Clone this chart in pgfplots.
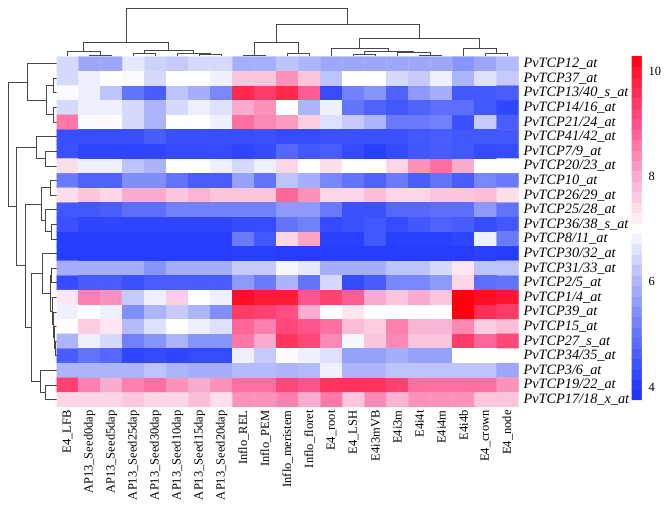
\documentclass[border=0pt]{standalone}
\usepackage{fontspec}
\setmainfont{Liberation Serif}
\usepackage{pgfplots}
\pgfplotsset{compat=1.18}
\begin{document}
\begin{tikzpicture}
\path[use as bounding box] (0,0) rectangle (668pt,514pt);
\begin{axis}[
  at={(0pt,0pt)}, anchor=south west, scale only axis,
  width=668pt, height=514pt, xmin=0, xmax=668, ymin=0, ymax=514,
  y dir=reverse, hide axis, clip=false,
  dend/.style={draw=black!72, line width=1pt, mark=none}]
% column dendrogram
\addplot[dend] coordinates {(89,56.5)(89,55.2)(111,55.2)(111,56.5)};
\addplot[dend] coordinates {(67,56.5)(67,51.7)(100,51.7)(100,55.2)};
\addplot[dend] coordinates {(133,56.5)(133,54)(155,54)(155,56.5)};
\addplot[dend] coordinates {(199,56.5)(199,55)(221,55)(221,56.5)};
\addplot[dend] coordinates {(177,56.5)(177,54)(210,54)(210,55)};
\addplot[dend] coordinates {(144,54)(144,50.7)(193.5,50.7)(193.5,54)};
\addplot[dend] coordinates {(83.5,51.7)(83.5,42.7)(168.75,42.7)(168.75,50.7)};
\addplot[dend] coordinates {(243,56.5)(243,55.2)(265,55.2)(265,56.5)};
\addplot[dend] coordinates {(287,56.5)(287,54)(309,54)(309,56.5)};
\addplot[dend] coordinates {(254,55.2)(254,42.7)(298,42.7)(298,54)};
\addplot[dend] coordinates {(353,56.5)(353,55)(375,55)(375,56.5)};
\addplot[dend] coordinates {(419,56.5)(419,55.5)(441,55.5)(441,56.5)};
\addplot[dend] coordinates {(397,56.5)(397,53)(430,53)(430,55.5)};
\addplot[dend] coordinates {(364,55)(364,51.7)(413.5,51.7)(413.5,53)};
\addplot[dend] coordinates {(331,56.5)(331,48.3)(388.75,48.3)(388.75,51.7)};
\addplot[dend] coordinates {(485,56.5)(485,53.3)(507,53.3)(507,56.5)};
\addplot[dend] coordinates {(463,56.5)(463,48.3)(496,48.3)(496,53.3)};
\addplot[dend] coordinates {(359.9,48.3)(359.9,38.3)(479.5,38.3)(479.5,48.3)};
\addplot[dend] coordinates {(276,42.7)(276,25)(419.7,25)(419.7,38.3)};
\addplot[dend] coordinates {(126.1,42.7)(126.1,8.3)(347.8,8.3)(347.8,25)};
% row dendrogram
\addplot[dend] coordinates {(56.5,78.4)(53.3,78.4)(53.3,93.0)(56.5,93.0)};
\addplot[dend] coordinates {(56.5,107.6)(53.3,107.6)(53.3,122.2)(56.5,122.2)};
\addplot[dend] coordinates {(53.3,85.7)(46.7,85.7)(46.7,114.9)(53.3,114.9)};
\addplot[dend] coordinates {(56.5,63.8)(27.3,63.8)(27.3,100.3)(46.7,100.3)};
\addplot[dend] coordinates {(56.5,151.4)(45,151.4)(45,166.0)(56.5,166.0)};
\addplot[dend] coordinates {(56.5,136.8)(36.7,136.8)(36.7,158.7)(45,158.7)};
\addplot[dend] coordinates {(56.5,180.6)(50,180.6)(50,195.2)(56.5,195.2)};
\addplot[dend] coordinates {(56.5,224.4)(51.7,224.4)(51.7,239.0)(56.5,239.0)};
\addplot[dend] coordinates {(56.5,209.8)(45,209.8)(45,231.7)(51.7,231.7)};
\addplot[dend] coordinates {(50,187.9)(41.7,187.9)(41.7,220.75)(45,220.75)};
\addplot[dend] coordinates {(56.5,268.2)(51.7,268.2)(51.7,282.8)(56.5,282.8)};
\addplot[dend] coordinates {(56.5,341.2)(55.3,341.2)(55.3,355.8)(56.5,355.8)};
\addplot[dend] coordinates {(56.5,326.6)(54.3,326.6)(54.3,348.5)(55.3,348.5)};
\addplot[dend] coordinates {(56.5,312.0)(53.3,312.0)(53.3,337.55)(54.3,337.55)};
\addplot[dend] coordinates {(56.5,297.4)(52,297.4)(52,324.8)(53.3,324.8)};
\addplot[dend] coordinates {(51.7,275.5)(50,275.5)(50,311.1)(52,311.1)};
\addplot[dend] coordinates {(56.5,253.6)(42.7,253.6)(42.7,293.3)(50,293.3)};
\addplot[dend] coordinates {(56.5,385.0)(45,385.0)(45,399.6)(56.5,399.6)};
\addplot[dend] coordinates {(56.5,370.4)(40,370.4)(40,392.3)(45,392.3)};
\addplot[dend] coordinates {(42.7,273.45)(31.7,273.45)(31.7,381.35)(40,381.35)};
\addplot[dend] coordinates {(41.7,204.3)(25,204.3)(25,327.4)(31.7,327.4)};
\addplot[dend] coordinates {(36.7,147.75)(16.7,147.75)(16.7,265.85)(25,265.85)};
\addplot[dend] coordinates {(27.3,82.05)(8.3,82.05)(8.3,206.8)(16.7,206.8)};
\end{axis}
\begin{axis}[
  at={(56.5pt,107.1pt)}, anchor=south west, scale only axis,
  width=462pt, height=350.4pt,
  xmin=-0.5, xmax=20.5, ymin=-0.5, ymax=23.5, y dir=reverse,
  enlargelimits=false,
  axis line style={draw=none}, tick style={draw=none}, major tick length=0pt,
  xtick={0,...,20},
  xticklabels={E4\_LFB, AP13\_Seed0dap, AP13\_Seed5dap, AP13\_Seed25dap, AP13\_Seed30dap, AP13\_Seed10dap, AP13\_Seed15dap, AP13\_Seed20dap, Inflo\_REL, Inflo\_PEM, Inflo\_meristem, Inflo\_floret, E4\_root, E4\_LSH, E4i3mVB, E4i3m, E4i4t, E4i4m, E4i4b, E4\_crown, E4\_node},
  xticklabel style={rotate=90, anchor=east, font=\fontsize{12.5}{13}\selectfont},
  ytick={0,...,23},
  yticklabels={PvTCP12\_at, PvTCP37\_at, PvTCP13/40\_s\_at, PvTCP14/16\_at, PvTCP21/24\_at, PvTCP41/42\_at, PvTCP7/9\_at, PvTCP20/23\_at, PvTCP10\_at, PvTCP26/29\_at, PvTCP25/28\_at, PvTCP36/38\_s\_at, PvTCP8/11\_at, PvTCP30/32\_at, PvTCP31/33\_at, PvTCP2/5\_at, PvTCP1/4\_at, PvTCP39\_at, PvTCP15\_at, PvTCP27\_s\_at, PvTCP34/35\_at, PvTCP3/6\_at, PvTCP19/22\_at, PvTCP17/18\_x\_at},
  yticklabel pos=right,
  yticklabel style={anchor=west, xshift=1.5pt, font=\fontsize{14.3}{14.5}\selectfont\itshape},
  colormap={tcp}{rgb255(375)=(28,48,255) rgb255(400)=(35,58,255) rgb255(500)=(98,116,250) rgb255(600)=(172,180,250) rgb255(700)=(255,255,255) rgb255(800)=(250,172,206) rgb255(900)=(255,85,140) rgb255(1000)=(255,22,48) rgb255(1030)=(255,0,12)},
  point meta min=3.75, point meta max=10.3,
  colorbar sampled,
  colorbar style={samples=34, at={(parent axis.north east)}, anchor=north west,
    xshift=104.5pt, yshift=0.5pt, scale only axis, width=10pt, height=344pt,
    ytick={4,6,8,10}, yticklabel pos=right,
    axis line style={draw=none}, tick style={draw=none}, major tick length=0pt,
    yticklabel style={font=\fontsize{12.5}{13}\selectfont, /pgf/number format/assume math mode=true, xshift=3.5pt}},
]
\addplot[matrix plot*, mesh/cols=21, point meta=explicit] table[row sep=\\, meta=c] {
x y c\\
0 0 6.5\\1 0 5.8\\2 0 5.8\\3 0 6.7\\4 0 6.4\\5 0 6.3\\6 0 6.5\\7 0 6.5\\8 0 5.9\\9 0 5.9\\10 0 6.2\\11 0 6.0\\12 0 5.8\\13 0 5.8\\14 0 5.8\\15 0 5.8\\16 0 5.8\\17 0 5.8\\18 0 5.5\\19 0 5.8\\20 0 6.1\\
0 1 6.5\\1 1 6.8\\2 1 7.0\\3 1 6.95\\4 1 6.5\\5 1 7.0\\6 1 7.0\\7 1 6.8\\8 1 7.7\\9 1 7.7\\10 1 8.3\\11 1 7.7\\12 1 6.2\\13 1 7.0\\14 1 7.0\\15 1 6.5\\16 1 6.3\\17 1 6.8\\18 1 6.0\\19 1 6.6\\20 1 6.3\\
0 2 6.95\\1 2 6.8\\2 2 6.2\\3 2 5.0\\4 2 4.6\\5 2 6.2\\6 2 5.9\\7 2 5.3\\8 2 9.7\\9 2 9.4\\10 2 9.7\\11 2 8.9\\12 2 4.3\\13 2 5.2\\14 2 5.5\\15 2 4.7\\16 2 5.6\\17 2 5.9\\18 2 4.5\\19 2 4.5\\20 2 4.6\\
0 3 6.5\\1 3 6.8\\2 3 6.8\\3 3 6.5\\4 3 6.0\\5 3 6.5\\6 3 6.8\\7 3 6.6\\8 3 8.0\\9 3 8.3\\10 3 7.0\\11 3 6.0\\12 3 6.8\\13 3 5.0\\14 3 4.7\\15 3 4.5\\16 3 4.7\\17 3 4.9\\18 3 4.9\\19 3 4.5\\20 3 4.2\\
0 4 8.6\\1 4 6.95\\2 4 7.05\\3 4 6.5\\4 4 6.0\\5 4 7.0\\6 4 7.0\\7 4 6.8\\8 4 8.7\\9 4 8.4\\10 4 8.2\\11 4 7.6\\12 4 6.6\\13 4 6.3\\14 4 6.0\\15 4 5.1\\16 4 5.1\\17 4 5.2\\18 4 4.4\\19 4 6.3\\20 4 4.6\\
0 5 4.35\\1 5 4.35\\2 5 4.35\\3 5 4.35\\4 5 4.6\\5 5 4.35\\6 5 4.35\\7 5 4.35\\8 5 4.35\\9 5 4.4\\10 5 4.3\\11 5 4.3\\12 5 4.4\\13 5 4.4\\14 5 4.4\\15 5 4.4\\16 5 4.5\\17 5 4.6\\18 5 4.5\\19 5 4.5\\20 5 4.5\\
0 6 4.4\\1 6 4.2\\2 6 4.2\\3 6 4.2\\4 6 4.2\\5 6 4.3\\6 6 4.3\\7 6 4.3\\8 6 4.2\\9 6 4.3\\10 6 4.8\\11 6 4.5\\12 6 4.6\\13 6 4.3\\14 6 4.1\\15 6 4.3\\16 6 4.5\\17 6 4.6\\18 6 4.5\\19 6 4.3\\20 6 4.3\\
0 7 7.4\\1 7 6.8\\2 7 6.8\\3 7 6.2\\4 7 6.0\\5 7 7.0\\6 7 7.0\\7 7 6.8\\8 7 6.5\\9 7 6.8\\10 7 7.5\\11 7 7.0\\12 7 7.4\\13 7 7.0\\14 7 7.0\\15 7 7.5\\16 7 8.3\\17 7 8.7\\18 7 8.0\\19 7 7.0\\20 7 7.0\\
0 8 5.1\\1 8 4.7\\2 8 4.7\\3 8 5.4\\4 8 5.4\\5 8 5.0\\6 8 4.6\\7 8 4.6\\8 8 5.7\\9 8 5.0\\10 8 6.2\\11 8 5.9\\12 8 5.3\\13 8 5.0\\14 8 4.7\\15 8 5.1\\16 8 4.6\\17 8 5.0\\18 8 4.6\\19 8 5.3\\20 8 5.1\\
0 9 7.4\\1 9 7.7\\2 9 7.5\\3 9 8.0\\4 9 8.0\\5 9 7.7\\6 9 7.9\\7 9 7.7\\8 9 7.7\\9 9 7.7\\10 9 8.8\\11 9 8.3\\12 9 7.5\\13 9 7.5\\14 9 7.8\\15 9 7.5\\16 9 7.5\\17 9 7.7\\18 9 7.7\\19 9 7.8\\20 9 7.4\\
0 10 4.5\\1 10 4.5\\2 10 4.6\\3 10 4.9\\4 10 4.9\\5 10 5.2\\6 10 5.2\\7 10 5.2\\8 10 5.2\\9 10 5.2\\10 10 5.6\\11 10 5.6\\12 10 5.1\\13 10 4.4\\14 10 4.4\\15 10 4.8\\16 10 4.8\\17 10 4.9\\18 10 4.9\\19 10 5.6\\20 10 5.0\\
0 11 4.4\\1 11 4.2\\2 11 4.2\\3 11 4.2\\4 11 4.2\\5 11 4.2\\6 11 4.2\\7 11 4.2\\8 11 4.3\\9 11 4.3\\10 11 5.0\\11 11 5.2\\12 11 4.3\\13 11 4.4\\14 11 4.5\\15 11 4.3\\16 11 4.5\\17 11 4.7\\18 11 4.6\\19 11 4.3\\20 11 4.5\\
0 12 4.05\\1 12 4.05\\2 12 4.05\\3 12 4.05\\4 12 4.05\\5 12 4.05\\6 12 4.05\\7 12 4.05\\8 12 5.1\\9 12 4.5\\10 12 7.5\\11 12 8.1\\12 12 4.1\\13 12 4.1\\14 12 4.5\\15 12 4.1\\16 12 4.1\\17 12 4.1\\18 12 4.2\\19 12 6.8\\20 12 5.1\\
0 13 4.05\\1 13 4.05\\2 13 4.05\\3 13 4.05\\4 13 4.05\\5 13 4.05\\6 13 4.05\\7 13 4.05\\8 13 4.1\\9 13 4.1\\10 13 4.05\\11 13 4.05\\12 13 4.05\\13 13 4.05\\14 13 4.05\\15 13 4.05\\16 13 4.05\\17 13 4.05\\18 13 4.05\\19 13 4.1\\20 13 4.05\\
0 14 5.9\\1 14 5.9\\2 14 5.9\\3 14 5.9\\4 14 5.5\\5 14 5.9\\6 14 5.9\\7 14 5.9\\8 14 6.3\\9 14 6.3\\10 14 6.9\\11 14 6.7\\12 14 5.9\\13 14 5.9\\14 14 5.9\\15 14 6.2\\16 14 6.2\\17 14 6.5\\18 14 7.3\\19 14 6.2\\20 14 6.2\\
0 15 4.3\\1 15 4.6\\2 15 4.6\\3 15 4.4\\4 15 4.6\\5 15 4.6\\6 15 4.6\\7 15 4.6\\8 15 5.6\\9 15 5.1\\10 15 6.0\\11 15 5.0\\12 15 6.5\\13 15 4.3\\14 15 4.6\\15 15 5.3\\16 15 5.3\\17 15 5.6\\18 15 7.5\\19 15 4.9\\20 15 5.0\\
0 16 7.3\\1 16 8.5\\2 16 8.3\\3 16 6.3\\4 16 6.8\\5 16 7.6\\6 16 7.0\\7 16 6.8\\8 16 10.1\\9 16 9.9\\10 16 9.9\\11 16 9.0\\12 16 9.3\\13 16 8.9\\14 16 8.0\\15 16 7.7\\16 16 8.0\\17 16 7.7\\18 16 10.3\\19 16 10.1\\20 16 10.0\\
0 17 6.8\\1 17 7.0\\2 17 6.8\\3 17 5.4\\4 17 6.0\\5 17 6.3\\6 17 6.0\\7 17 5.4\\8 17 9.4\\9 17 9.3\\10 17 9.1\\11 17 8.0\\12 17 7.0\\13 17 7.3\\14 17 7.0\\15 17 7.0\\16 17 7.0\\17 17 7.0\\18 17 10.3\\19 17 9.6\\20 17 9.4\\
0 18 7.0\\1 18 7.6\\2 18 7.3\\3 18 6.1\\4 18 6.6\\5 18 7.0\\6 18 6.8\\7 18 6.6\\8 18 8.8\\9 18 8.5\\10 18 9.2\\11 18 9.0\\12 18 8.7\\13 18 7.8\\14 18 7.6\\15 18 8.5\\16 18 7.9\\17 18 7.9\\18 18 8.4\\19 18 7.6\\20 18 7.8\\
0 19 6.0\\1 19 6.8\\2 19 6.5\\3 19 5.2\\4 19 5.5\\5 19 6.0\\6 19 5.5\\7 19 5.5\\8 19 8.6\\9 19 8.0\\10 19 9.5\\11 19 9.2\\12 19 8.4\\13 19 6.9\\14 19 7.7\\15 19 8.4\\16 19 7.7\\17 19 7.7\\18 19 9.4\\19 19 8.8\\20 19 9.2\\
0 20 4.6\\1 20 5.0\\2 20 4.8\\3 20 4.2\\4 20 4.3\\5 20 4.2\\6 20 4.3\\7 20 4.3\\8 20 6.8\\9 20 6.3\\10 20 6.95\\11 20 6.8\\12 20 6.6\\13 20 5.7\\14 20 5.7\\15 20 5.9\\16 20 5.7\\17 20 5.7\\18 20 7.0\\19 20 7.0\\20 20 7.0\\
0 21 6.0\\1 21 6.0\\2 21 6.0\\3 21 6.0\\4 21 6.2\\5 21 6.0\\6 21 5.9\\7 21 5.9\\8 21 6.1\\9 21 6.1\\10 21 6.0\\11 21 6.1\\12 21 6.8\\13 21 6.0\\14 21 6.0\\15 21 6.2\\16 21 6.2\\17 21 6.2\\18 21 6.2\\19 21 6.2\\20 21 5.8\\
0 22 9.3\\1 22 8.5\\2 22 8.0\\3 22 8.5\\4 22 8.7\\5 22 8.3\\6 22 8.0\\7 22 8.3\\8 22 8.7\\9 22 8.7\\10 22 9.2\\11 22 9.0\\12 22 9.5\\13 22 9.5\\14 22 9.5\\15 22 9.3\\16 22 8.7\\17 22 8.7\\18 22 8.7\\19 22 8.7\\20 22 8.3\\
0 23 7.5\\1 23 7.5\\2 23 7.5\\3 23 7.7\\4 23 7.5\\5 23 7.5\\6 23 7.8\\7 23 7.4\\8 23 8.3\\9 23 8.3\\10 23 8.5\\11 23 8.0\\12 23 8.6\\13 23 7.7\\14 23 8.4\\15 23 7.9\\16 23 8.3\\17 23 8.3\\18 23 8.3\\19 23 7.7\\20 23 7.7\\
};
\end{axis}
\end{tikzpicture}
\end{document}
